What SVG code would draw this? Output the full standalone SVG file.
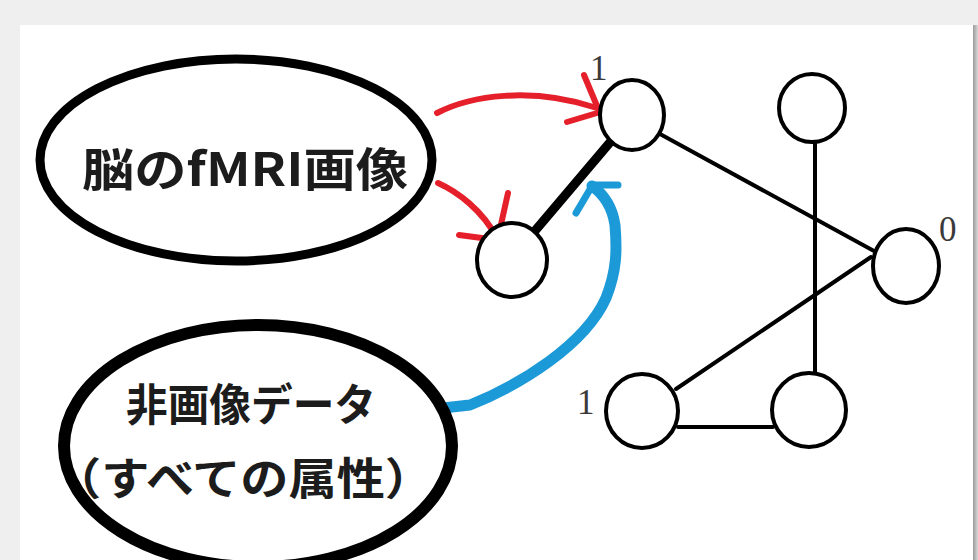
<svg xmlns="http://www.w3.org/2000/svg" width="978" height="560" viewBox="0 0 978 560">
  <defs>
    <linearGradient id="shadow" x1="0" y1="0" x2="1" y2="0">
      <stop offset="0" stop-color="#9a9a9a"/>
      <stop offset="1" stop-color="#d8d8d8"/>
    </linearGradient>
    <style>
      .node { fill: #ffffff; stroke: #000000; stroke-width: 4; }
      .big { fill: #ffffff; stroke: #000000; }
      .jp { font-family: "Noto Sans CJK JP", "Noto Sans", sans-serif; font-weight: bold; fill: #1c1c1c; text-anchor: middle; }
      .num { font-family: "Liberation Serif", "DejaVu Serif", serif; font-size: 35px; fill: #3a3a3a; }
      .edge { stroke: #000000; stroke-width: 4; fill: none; stroke-linecap: round; }
      .red { stroke: #e5202b; stroke-width: 6; fill: none; stroke-linecap: round; stroke-linejoin: round; }
      .blue { stroke: #1c9ad8; fill: none; stroke-linecap: round; stroke-linejoin: round; }
    </style>
  </defs>

  <rect x="0" y="0" width="978" height="560" fill="#efefef"/>
  <rect x="20" y="25" width="953" height="535" fill="#ffffff"/>
  <rect x="973" y="25" width="5" height="535" fill="url(#shadow)"/>

  <g id="connectors">
    <line class="edge" x1="660" y1="134" x2="874" y2="251"/>
    <line class="edge" x1="815" y1="141" x2="815" y2="376"/>
    <line class="edge" x1="871" y1="257" x2="676" y2="389"/>
    <line class="edge" x1="678" y1="427" x2="773" y2="427"/>
    <line x1="534" y1="232" x2="612" y2="140" stroke="#000000" stroke-width="9" stroke-linecap="round"/>
    <!-- red arrows -->
    <path class="red" d="M437,113 C470,96 530,86 597,108"/>
    <path class="red" d="M584,75 L597,106"/>
    <path class="red" d="M567,122 L597,113"/>
    <path class="red" d="M438,183 C458,192 482,210 497,238"/>
    <path class="red" d="M508,193 L498,238"/>
    <path class="red" d="M459,235 L497,240"/>
    <!-- blue arrow -->
    <path class="blue" stroke-width="11" d="M443,408 L470,405 C520,385 585,345 606,298 C617,270 617,250 615,225 C612,205 602,193 592,186"/>
    <path class="blue" stroke-width="7" d="M592,185 L618,185"/>
    <path class="blue" stroke-width="7" d="M592,186 L576,213"/>
  </g>

  <g id="fmri">
    <ellipse class="big" cx="236" cy="160" rx="196" ry="101" stroke-width="9"/>
    <text class="jp" x="245" y="186" font-size="46" textLength="326" lengthAdjust="spacingAndGlyphs">脳のfMRI画像</text>
  </g>

  <g id="nonimage">
    <ellipse class="big" cx="258" cy="446" rx="194" ry="121" stroke-width="12"/>
    <text class="jp" x="251" y="421" font-size="44" textLength="250" lengthAdjust="spacingAndGlyphs">非画像データ</text>
    <text class="jp" x="243" y="495" font-size="44" textLength="380" lengthAdjust="spacingAndGlyphs">（すべての属性）</text>
  </g>

  <g id="n1">
    <ellipse class="node" cx="632" cy="115" rx="32" ry="35"/>
    <text class="num" x="590" y="80">1</text>
  </g>
  <g id="n2">
    <ellipse class="node" cx="812" cy="108" rx="33" ry="34"/>
  </g>
  <g id="n3">
    <ellipse class="node" cx="906" cy="266" rx="33" ry="37"/>
    <text class="num" x="939" y="241">0</text>
  </g>
  <g id="n4">
    <ellipse class="node" cx="512" cy="260" rx="35" ry="37"/>
  </g>
  <g id="n5">
    <ellipse class="node" cx="642" cy="411" rx="36" ry="37"/>
    <text class="num" x="577" y="414">1</text>
  </g>
  <g id="n6">
    <ellipse class="node" cx="809" cy="410" rx="37" ry="37"/>
  </g>
</svg>
